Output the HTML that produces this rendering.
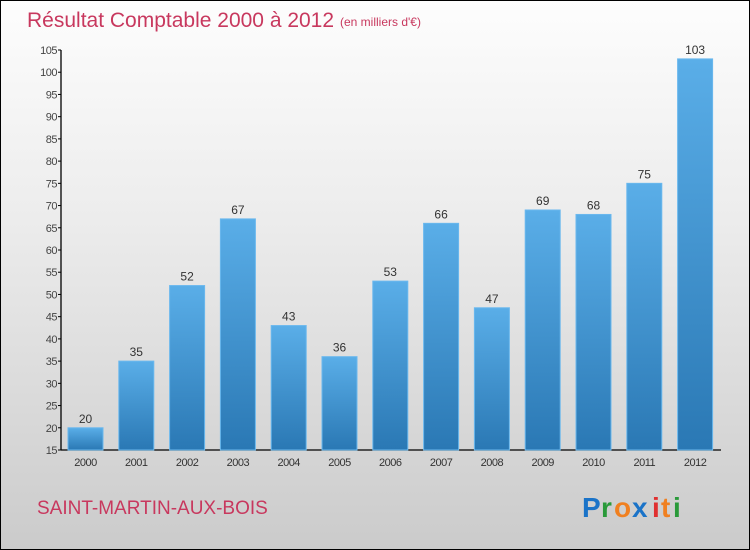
<!DOCTYPE html>
<html><head><meta charset="utf-8"><style>
body{margin:0;}
#c{position:relative;width:748px;height:548px;border:1px solid #000;background:linear-gradient(#fdfdfd,#ececec 40%,#cbcbcb);overflow:hidden;font-family:"Liberation Sans",sans-serif;}
</style></head><body>
<div id="c">
<svg width="750" height="550" style="position:absolute;left:-1px;top:-1px">
<defs><linearGradient id="bg" x1="0" y1="0" x2="0" y2="1"><stop offset="0" stop-color="#5aaee8"/><stop offset="1" stop-color="#2a78b4"/></linearGradient></defs>
<text x="27" y="27" font-size="21" fill="#c8385e">Résultat Comptable 2000 à 2012</text>
<text x="340" y="26" font-size="12" fill="#c8385e">(en milliers d'€)</text>
<g id="yax"></g><g id="bars"></g>
<text x="37" y="514" font-size="19" fill="#c8385e">SAINT-MARTIN-AUX-BOIS</text>
<g font-size="28" font-weight="bold"><text x="582" y="517" fill="#1a73c8">P</text><text x="601" y="517" fill="#2a9a3a">r</text><text x="614" y="517" fill="#f08020">o</text><text x="632" y="517" fill="#1a73c8">x</text><text x="652" y="517" fill="#e03030">i</text><text x="661" y="517" fill="#f08020">t</text><text x="673" y="517" fill="#2a9a3a">i</text></g>
</svg>
</div>
<script>
const years=["2000","2001","2002","2003","2004","2005","2006","2007","2008","2009","2010","2011","2012"];
const values=[20,35,52,67,43,36,53,66,47,69,68,75,103];
const yTicks=[15,20,25,30,35,40,45,50,55,60,65,70,75,80,85,90,95,100,105];
const NS="http://www.w3.org/2000/svg";
const y=v=>450-(v-15)*400/90;
const x=i=>68+i*50.8;
function mk(t,a,p){const e=document.createElementNS(NS,t);for(const k in a)e.setAttribute(k,a[k]);p.appendChild(e);return e;}
const ya=document.getElementById('yax'),bg=document.getElementById('bars');
const al=mk('line',{x1:61,y1:50,x2:61,y2:450,stroke:'#000','stroke-width':1.3},ya);


const xl=mk('line',{x1:61,y1:450,x2:721,y2:450,stroke:'#000','stroke-width':1.3},ya);


yTicks.forEach(v=>{
 mk('line',{x1:58,y1:y(v),x2:61,y2:y(v),stroke:'#000'},ya);
 const t=mk('text',{x:57,y:y(v)+4,'font-size':11,fill:'#444','text-anchor':'end','letter-spacing':'-0.5'},ya);
 t.textContent=v;
 
 
});
values.forEach((v,i)=>{
 const r=mk('rect',{x:x(i),y:y(v),width:35,height:450-y(v),fill:'url(#bg)',stroke:'#6ab8ee','stroke-width':1},bg);
 
 
 const t=mk('text',{x:x(i)+17.5,y:y(v)-5,'font-size':12,fill:'#333','text-anchor':'middle'},bg);
 t.textContent=v;
 
 
 const l=mk('text',{x:x(i)+17.5,y:466,'font-size':11,fill:'#333','text-anchor':'middle','letter-spacing':'-0.5'},bg);
 l.textContent=years[i];
 
 
});
</script>
</body></html>
